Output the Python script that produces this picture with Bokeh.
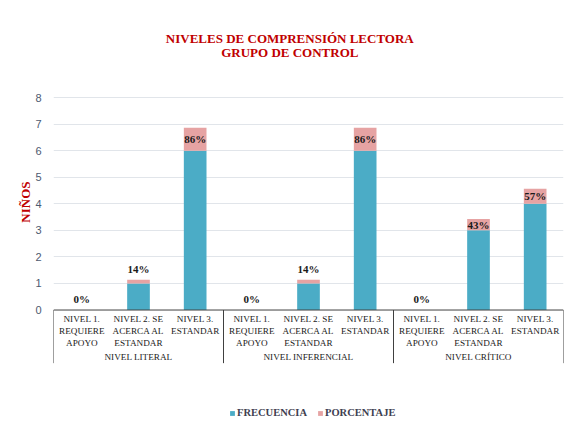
import math
from bokeh.plotting import figure
from bokeh.models import ColumnDataSource, Range1d, FixedTicker, Legend, LegendItem, Title
from bokeh.core.properties import value
from bokeh.embed import file_html
from bokeh.resources import INLINE

# ---- data ----
titles = ["NIVELES DE COMPRENSIÓN LECTORA", "GRUPO DE CONTROL"]
groups = ["NIVEL LITERAL", "NIVEL INFERENCIAL", "NIVEL CRÍTICO"]
subcats = ["NIVEL 1.\nREQUIERE\nAPOYO", "NIVEL 2. SE\nACERCA AL\nESTANDAR", "NIVEL 3.\nESTANDAR"]
frecuencia = [0, 1, 6, 0, 1, 6, 0, 3, 4]
porcentaje = [0.0, 0.14, 0.86, 0.0, 0.14, 0.86, 0.0, 0.43, 0.57]
y_ticks = [0, 1, 2, 3, 4, 5, 6, 7, 8]

SERIF_NAME = "Liberation Serif"
SERIF = value(SERIF_NAME)
BLUE = "#4bacc6"
PINK = "#e6a3a3"
RED = "#c00000"
INK = "#1a1a1a"

n = len(frecuencia)
xs = list(range(n))
lab_y = [f + p / 2 if p >= 0.3 else f + p + 0.4 for f, p in zip(frecuencia, porcentaje)]
lab_txt = [f"{round(p * 100)}%" for p in porcentaje]

src = ColumnDataSource(dict(x=xs, frecuencia=frecuencia, porcentaje=porcentaje,
                            ly=lab_y, lt=lab_txt))

p = figure(width=566, height=424, output_backend="svg", toolbar_location=None,
           x_range=Range1d(-0.5, n - 0.5), y_range=Range1d(-4.31, 10.90),
           x_axis_location=None,
           min_border_left=53, min_border_right=3, min_border_top=20, min_border_bottom=0)
p.outline_line_color = None
p.background_fill_color = "white"
p.border_fill_color = "white"

rs = p.vbar_stack(["frecuencia", "porcentaje"], x="x", width=0.4, source=src,
                  color=[BLUE, PINK], line_color=None)

p.text(x="x", y="ly", text="lt", source=src, text_align="center", text_baseline="middle",
       text_font=SERIF, text_font_style="bold", text_font_size="11px", text_color=INK)

# category table below zero
sub_t = [subcats[i % 3] for i in range(n)]
p.text(x=xs, y=[-0.15] * n, text=sub_t, text_align="center", text_baseline="top",
       text_font=SERIF, text_font_size="9.2px", text_color=INK, text_line_height=1.2)
gx = [3 * g + 1 for g in range(len(groups))]
p.text(x=gx, y=[-1.75] * len(groups), text=groups, text_align="center", text_baseline="middle",
       text_font=SERIF, text_font_size="9.2px", text_color=INK)
bx = [-0.5 + 3 * g for g in range(len(groups) + 1)]
p.segment(x0=bx, y0=[0] * len(bx), x1=bx, y1=[-2.0] * len(bx), line_color="#404040", line_width=1)
p.segment(x0=[-0.5], y0=[0], x1=[n - 0.5], y1=[0], line_color="#404040", line_width=1)

# title (inside plot area, above the value range)
p.text(x=[3.67, 3.67], y=[10.22, 9.69], text=titles, text_align="center", text_baseline="middle",
       text_font=SERIF, text_font_style="bold", text_font_size="13px", text_color=RED)

# y axis
p.yaxis.ticker = FixedTicker(ticks=y_ticks)
p.yaxis.axis_line_color = None
p.yaxis.major_tick_line_color = None
p.yaxis.minor_tick_line_color = None
p.yaxis.major_label_text_font = "Liberation Sans"
p.yaxis.major_label_text_font_size = "11px"
p.yaxis.major_label_text_color = "#4d5a70"
p.yaxis.major_label_standoff = 6
p.xgrid.visible = False
p.ygrid.grid_line_color = "#e1e5ea"
p.ygrid.ticker = FixedTicker(ticks=y_ticks[1:])

p.add_layout(Title(text="NIÑOS", align="right", offset=161, vertical_align="bottom", standoff=0,
                   text_font=SERIF_NAME, text_font_style="bold", text_font_size="13px",
                   text_color=RED), "left")

legend = Legend(items=[LegendItem(label="FRECUENCIA", renderers=[rs[0]]),
                       LegendItem(label="PORCENTAJE", renderers=[rs[1]])],
                location=(176, 6), orientation="horizontal", padding=0, margin=0,
                spacing=10, label_standoff=2, glyph_width=6, glyph_height=6,
                border_line_color=None, background_fill_alpha=0,
                label_text_font=SERIF_NAME, label_text_font_style="bold",
                label_text_font_size="10.5px", label_text_color="#404050")
p.add_layout(legend)

open("out.html", "w").write(file_html(p, INLINE))
